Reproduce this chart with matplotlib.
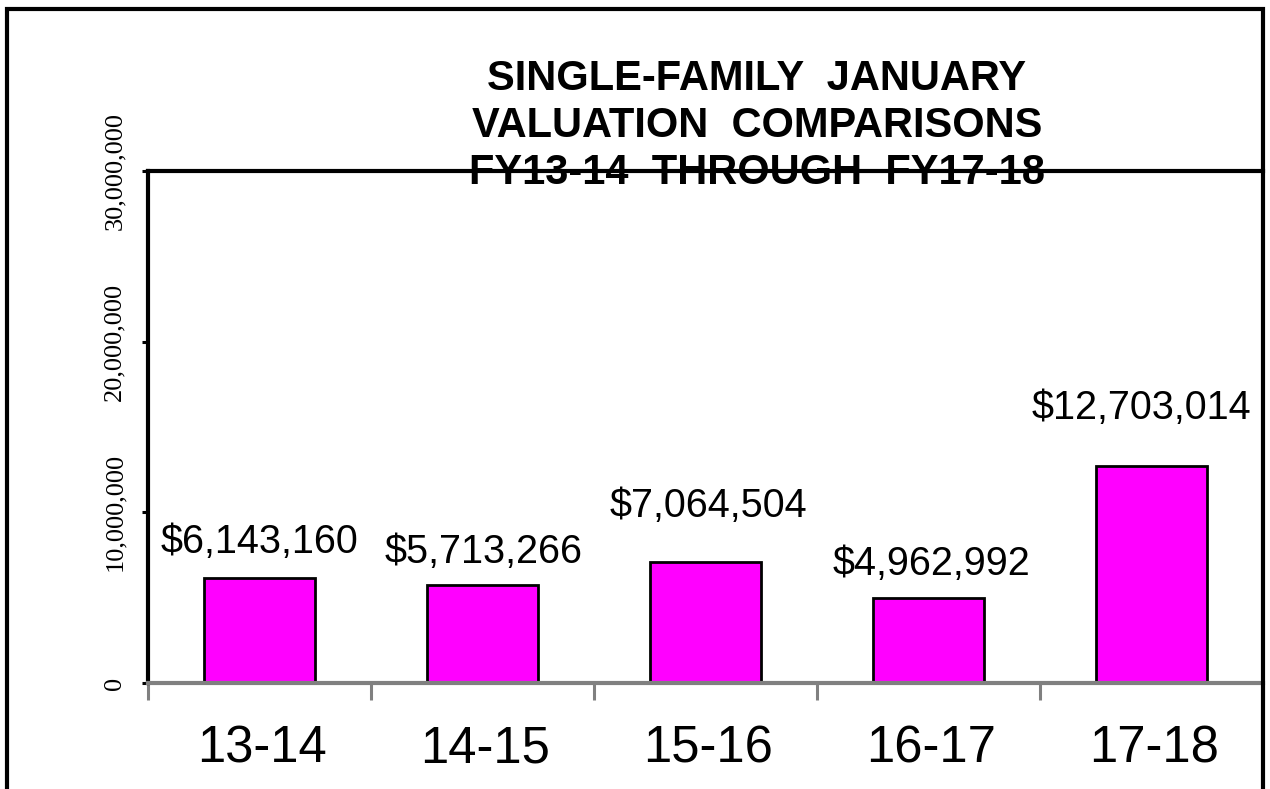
import matplotlib
matplotlib.use("Agg")
import matplotlib.pyplot as plt
from matplotlib.patches import Rectangle

# data
years = ["13-14", "14-15", "15-16", "16-17", "17-18"]
values = [6143160, 5713266, 7064504, 4962992, 12703014]
yticks = [0, 10000000, 20000000, 30000000]
title_lines = ["SINGLE-FAMILY  JANUARY", "VALUATION  COMPARISONS", "FY13-14  THROUGH  FY17-18"]

# hand placed label offsets (points) as in the original
label_dy = [18, 16.5, 32.5, 17, 34]
label_dx = [0, 1, 2, 2, -7]

W, H = 1270, 789
fig = plt.figure(figsize=(W / 100, H / 100), dpi=100)
ax = fig.add_axes([148 / W, 106 / H, (1263 - 148) / W, (683 - 171) / H])

x = list(range(len(years)))
ax.bar(x, values, width=0.5, color="#FF00FF", edgecolor="black", linewidth=2, zorder=3)

for i, v in enumerate(values):
    ax.annotate(f"${v:,}", (x[i], v), xytext=(label_dx[i], label_dy[i]), textcoords="offset points",
                ha="center", va="baseline", fontsize=28.5, family="Liberation Sans")

ax.set_xlim(-0.5, len(years) - 0.5)
ax.set_ylim(0, 30000000)

# x axis: ticks between categories, category names written below each bar
ax.set_xticks([i - 0.5 for i in range(len(years) + 1)])
ax.set_xticklabels([])
ax.tick_params(axis="x", which="major", direction="out", length=12, width=2.2, color="#808080")
for i, name in enumerate(years):
    ax.annotate(name, (x[i], 0), xycoords=ax.get_xaxis_transform(), xytext=(2, -57),
                textcoords="offset points", ha="center", va="baseline", fontsize=36.5,
                family="Liberation Sans", annotation_clip=False)

ax.set_yticks(yticks)
ax.set_yticklabels([f"{t:,}" for t in yticks], rotation=90, va="center", fontsize=19, family="Liberation Serif")
ax.tick_params(axis="y", direction="out", length=4, width=2.2, color="black", pad=12)

ax.spines["right"].set_visible(False)
ax.spines["left"].set_linewidth(3)
ax.spines["top"].set_linewidth(3)
ax.spines["bottom"].set_linewidth(3)
ax.spines["bottom"].set_color("#808080")
ax.spines["bottom"].set_zorder(4)

# title lines straddle the top of the plot
for i, line in enumerate(title_lines):
    fig.text(757 / W, 1 - (79 + 47 * i) / H, line, ha="center", va="center", fontsize=30,
             fontweight="bold", family="Liberation Sans")

# outer frame, open at the bottom as in the source image
fig.patches.append(Rectangle((7 / W, -0.05), (1263 - 7) / W, 1 - 8.5 / H + 0.05, transform=fig.transFigure,
                             fill=False, edgecolor="black", linewidth=3))

fig.savefig("out.png", dpi=100)
